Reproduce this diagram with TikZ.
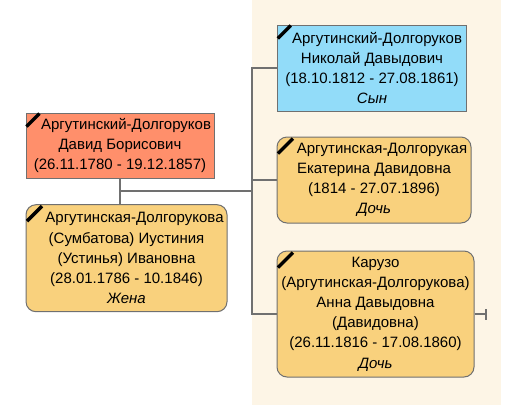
\documentclass[tikz,border=0pt]{standalone}
\usepackage{fontspec}
\setmainfont{Liberation Sans}
\usetikzlibrary{positioning}
\definecolor{salmon}{HTML}{FF8F6B}
\definecolor{sky}{HTML}{92DCF9}
\definecolor{sand}{HTML}{F9D17D}
\definecolor{cream}{HTML}{FDF5E6}
\definecolor{edge}{HTML}{707070}

\begin{document}
\begin{tikzpicture}[x=1pt,y=-1pt,
  person/.style={draw=edge,line width=1pt,align=center,inner sep=0pt,font=\fontsize{15}{20.2}\selectfont},
  fem/.style={person,fill=sand,rounded corners=10pt},
  link/.style={draw=edge,line width=2pt},
  ribbon/.style={line width=3.5pt,black}]
  \useasboundingbox (0,0) rectangle (511,405);
  \fill[white] (0,0) rectangle (511,405);
  \fill[cream] (252,0) rectangle (501,405);
  \node[person,fill=salmon,minimum width=188pt,minimum height=65pt] (d) at (120,145.5) {\hspace*{12pt}Аргутинский-Долгоруков\\Давид Борисович\\(26.11.1780 - 19.12.1857)};
  \node[fem,minimum width=201pt,minimum height=107pt] (w) at (126.5,258.2) {\hspace*{16pt}Аргутинская-Долгорукова\\(Сумбатова) Иустиния\\(Устинья) Ивановна\\(28.01.1786 - 10.1846)\\\textit{Жена}};
  \node[person,fill=sky,minimum width=189.5pt,minimum height=86pt] (s) at (372,68) {\hspace*{10pt}Аргутинский-Долгоруков\\Николай Давыдович\\(18.10.1812 - 27.08.1861)\\\textit{Сын}};
  \node[fem,minimum width=194pt,minimum height=86pt] (k) at (374,180) {\hspace*{16pt}Аргутинская-Долгорукая\\Екатерина Давидовна\\(1814 - 27.07.1896)\\\textit{Дочь}};
  \node[fem,minimum width=197pt,minimum height=126pt] (a) at (375.5,314) {Карузо\\(Аргутинская-Долгорукова)\\Анна Давыдовна\\(Давидовна)\\(26.11.1816 - 17.08.1860)\\\textit{Дочь}};
  \draw[ribbon] ([shift={(1,14)}]d.north west) -- ([shift={(14,1)}]d.north west);
  \draw[ribbon] ([shift={(1,14)}]s.north west) -- ([shift={(14,1)}]s.north west);
  \draw[ribbon] ([shift={(1.5,17)}]w.north west) -- ([shift={(16.5,2)}]w.north west);
  \draw[ribbon] ([shift={(1.5,17)}]k.north west) -- ([shift={(16.5,2)}]k.north west);
  \draw[ribbon] ([shift={(1.5,17)}]a.north west) -- ([shift={(16.5,2)}]a.north west);
  \coordinate (j) at (252,191.3);
  \coordinate[right=11pt of a.east] (e);
  \draw[link] (d.south) -- (d.south |- w.north);
  \draw[link] (d.south |- j) -- (j);
  \draw[link] (s.west) -| (j |- a.west) -- (a.west);
  \draw[link] (k.west) -- (j |- k.west);
  \draw[link] (a.east) -- (e);
  \draw[link] ([yshift=-5.5pt]e) -- ([yshift=5.5pt]e);
\end{tikzpicture}
\end{document}
